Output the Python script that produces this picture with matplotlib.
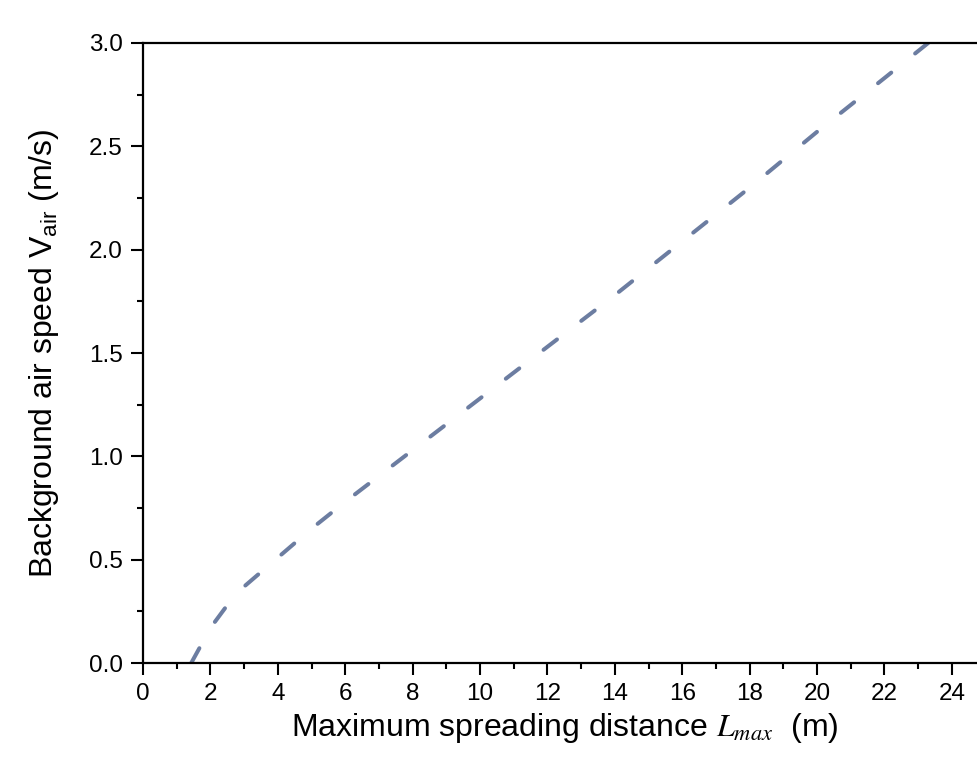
import matplotlib
matplotlib.use("Agg")
import matplotlib.pyplot as plt
from matplotlib.ticker import MultipleLocator

plt.rcParams['font.family'] = ['Liberation Sans', 'DejaVu Sans']
plt.rcParams['mathtext.fontset'] = 'stix'

# curve: spreading distance (m) vs air speed (m/s)
l_max = [1.43, 1.7, 2.0, 2.5, 3.0, 3.5, 4.0, 5.0, 6.0, 8.0, 10.0, 12.0,
         14.0, 16.0, 18.0, 20.0, 22.0, 23.3]
v_air = [0.0, 0.08, 0.17, 0.28, 0.37, 0.44, 0.51, 0.65, 0.78, 1.03, 1.28,
         1.53, 1.78, 2.04, 2.30, 2.57, 2.83, 3.0]

fig = plt.figure(figsize=(9.77, 7.58), dpi=100)
ax = fig.add_axes([0.1464, 0.1253, 0.8623, 0.818])

ax.plot(l_max, v_air, color='#6c7da1', lw=2.9, dashes=(4.2, 7.6),
        dash_capstyle='round')

ax.set_xlim(0, 25)
ax.set_ylim(0, 3.0)
ax.xaxis.set_major_locator(MultipleLocator(2))
ax.xaxis.set_minor_locator(MultipleLocator(1))
ax.yaxis.set_major_locator(MultipleLocator(0.5))
ax.yaxis.set_minor_locator(MultipleLocator(0.25))
ax.yaxis.set_major_formatter(plt.FuncFormatter(lambda v, p: f'{v:.1f}'))

ax.tick_params(which='major', direction='out', length=8.6, width=1.5,
               labelsize=17.5, pad=6)
ax.tick_params(which='minor', direction='out', length=4.5, width=1.5)
ax.tick_params(top=False, right=False)

for s in ['left', 'bottom', 'top']:
    ax.spines[s].set_linewidth(1.6)
ax.spines['right'].set_visible(False)

ax.set_xlabel(r'Maximum spreading distance $L_{max}$  (m)', fontsize=23, labelpad=4)
ax.set_ylabel(r'Background air speed $\mathregular{V_{air}}$ (m/s)', fontsize=23, labelpad=20)

fig.savefig('out.png', dpi=100)
